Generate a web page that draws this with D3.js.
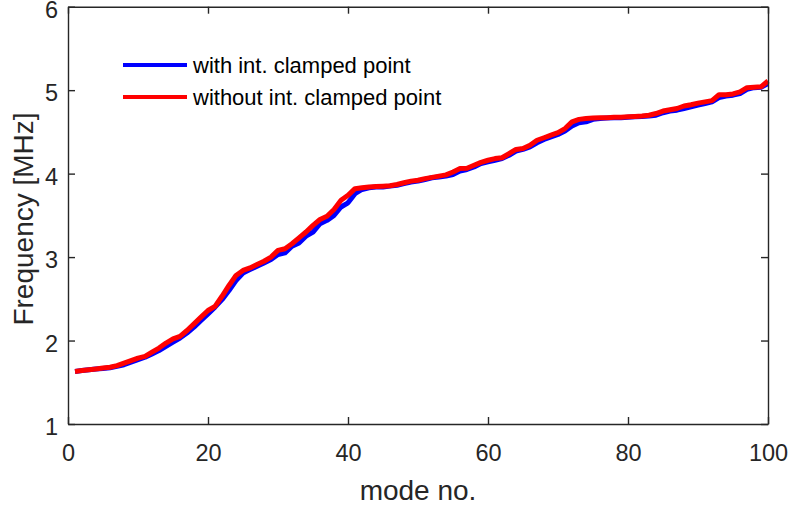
<!DOCTYPE html>
<html>
<head>
<meta charset="utf-8">
<script src="https://cdn.jsdelivr.net/npm/d3@7"></script>
<style>
  html, body { margin: 0; padding: 0; background: #fff; }
  svg { display: block; font-family: "Liberation Sans", Arial, sans-serif; }
</style>
</head>
<body>
<svg id="chart" width="791" height="512"></svg>
<script>
// ---- data ----
const modes = d3.range(1, 101);
const withClamped = [
  1.63,1.64,1.65,1.66,1.665,1.675,1.69,1.71,1.74,1.77,
  1.80,1.84,1.88,1.93,1.98,2.03,2.09,2.16,2.24,2.32,
  2.40,2.49,2.60,2.72,2.81,2.85,2.89,2.93,2.97,3.03,
  3.05,3.13,3.17,3.25,3.30,3.40,3.44,3.50,3.60,3.65,
  3.76,3.81,3.83,3.84,3.84,3.85,3.86,3.88,3.90,3.91,
  3.93,3.95,3.96,3.97,3.99,4.03,4.05,4.08,4.12,4.14,
  4.16,4.18,4.22,4.27,4.29,4.32,4.37,4.41,4.44,4.47,
  4.51,4.57,4.61,4.62,4.65,4.66,4.665,4.67,4.67,4.675,
  4.68,4.685,4.69,4.70,4.73,4.75,4.76,4.78,4.80,4.82,
  4.84,4.86,4.91,4.93,4.94,4.96,5.01,5.03,5.035,5.08
];
const withoutClamped = [
  1.63,1.64,1.65,1.66,1.67,1.68,1.70,1.73,1.76,1.79,
  1.81,1.86,1.91,1.97,2.02,2.05,2.12,2.20,2.28,2.36,
  2.41,2.53,2.66,2.78,2.84,2.87,2.91,2.95,3.00,3.08,
  3.10,3.16,3.23,3.30,3.38,3.45,3.49,3.57,3.68,3.74,
  3.82,3.83,3.84,3.845,3.85,3.855,3.87,3.89,3.91,3.92,
  3.94,3.955,3.97,3.985,4.02,4.06,4.065,4.10,4.135,4.16,
  4.18,4.19,4.24,4.29,4.30,4.34,4.40,4.43,4.46,4.49,
  4.54,4.62,4.65,4.66,4.665,4.67,4.67,4.675,4.675,4.68,
  4.685,4.69,4.70,4.72,4.75,4.765,4.78,4.81,4.825,4.845,
  4.86,4.875,4.945,4.945,4.955,4.98,5.03,5.035,5.04,5.11
];
const seriesNames = ["with int. clamped point", "without int. clamped point"];
const seriesColors = ["#0000ff", "#ff0000"];
const xTicks = [0, 20, 40, 60, 80, 100];
const yTicks = [1, 2, 3, 4, 5, 6];
const xLabel = "mode no.";
const yLabel = "Frequency [MHz]";

// ---- layout ----
const svg = d3.select("#chart");
const L = 68, R = 768, T = 6.7, B = 424;
const x = d3.scaleLinear().domain([0, 100]).range([L, R]);
const y = d3.scaleLinear().domain([1, 6]).range([B, T]);
const axisColor = "#262626";

// lines
const series = [withClamped, withoutClamped];
const line = d3.line().x((d, i) => x(modes[i])).y(d => y(d));
series.forEach((s, k) => {
  svg.append("path")
    .datum(s)
    .attr("d", line)
    .attr("fill", "none")
    .attr("stroke", seriesColors[k])
    .attr("stroke-width", 5)
    .attr("stroke-linejoin", "round")
    .attr("stroke-linecap", "butt");
});

// axes (box with inward ticks on all sides)
const tickLen = 7;
const fmt = d3.format("d");
const gB = svg.append("g").attr("transform", `translate(0,${B})`)
  .call(d3.axisBottom(x).tickValues(xTicks).tickFormat(fmt).tickSizeInner(-tickLen).tickSizeOuter(0).tickPadding(20));
const gT = svg.append("g").attr("transform", `translate(0,${T})`)
  .call(d3.axisTop(x).tickValues(xTicks).tickSizeInner(-tickLen).tickSizeOuter(0).tickFormat(""));
const gL = svg.append("g").attr("transform", `translate(${L},0)`)
  .call(d3.axisLeft(y).tickValues(yTicks).tickFormat(fmt).tickSizeInner(-tickLen).tickSizeOuter(0).tickPadding(10));
const gR = svg.append("g").attr("transform", `translate(${R},0)`)
  .call(d3.axisRight(y).tickValues(yTicks).tickSizeInner(-tickLen).tickSizeOuter(0).tickFormat(""));
[gB, gT, gL, gR].forEach(g => {
  g.select(".domain").attr("stroke", axisColor).attr("stroke-width", 1.4);
  g.selectAll(".tick line").attr("stroke", axisColor).attr("stroke-width", 1.4);
  g.selectAll(".tick text").attr("fill", axisColor)
    .style("font-family", '"Liberation Sans", Arial, sans-serif').style("font-size", "23.5px");
});
gL.selectAll(".tick text").attr("dy", "0.45em");
gB.selectAll(".tick text").attr("dy", "0.71em");

// axis labels
svg.append("text")
  .attr("x", (L + R) / 2).attr("y", 500)
  .attr("text-anchor", "middle")
  .attr("fill", axisColor)
  .style("font-size", "28px")
  .text(xLabel);
svg.append("text")
  .attr("transform", `translate(33,${219}) rotate(-90)`)
  .attr("text-anchor", "middle")
  .attr("fill", axisColor)
  .style("font-size", "28px")
  .text(yLabel);

// legend
const legY = [65, 97];
seriesNames.forEach((name, k) => {
  svg.append("line")
    .attr("x1", 123).attr("x2", 187)
    .attr("y1", legY[k]).attr("y2", legY[k])
    .attr("stroke", seriesColors[k]).attr("stroke-width", 4);
  svg.append("text")
    .attr("x", 193).attr("y", legY[k] + 8)
    .attr("fill", "#000")
    .style("font-size", "22px")
    .text(name);
});
</script>
</body>
</html>
